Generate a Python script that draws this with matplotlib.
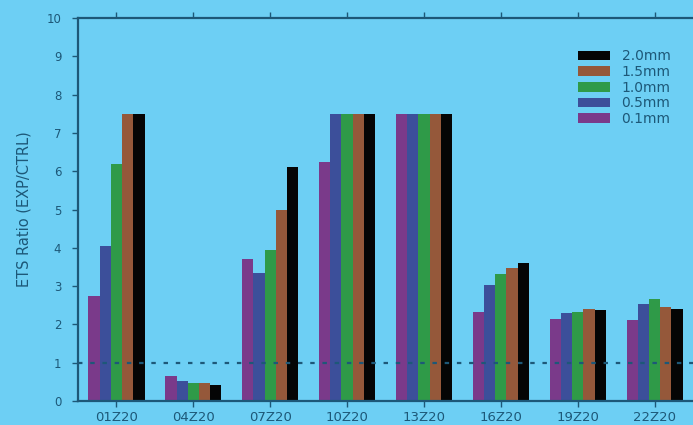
import numpy as np
import matplotlib
matplotlib.use("Agg")
from matplotlib import pyplot as plt
from matplotlib.patches import Patch

# ETS ratio per time step and smoothing radius
times = ['01Z20', '04Z20', '07Z20', '10Z20', '13Z20', '16Z20', '19Z20', '22Z20']
series = ['0.1mm', '0.5mm', '1.0mm', '1.5mm', '2.0mm']
r01 = [2.75, 0.64, 3.72, 6.25, 7.5, 2.33, 2.15, 2.11]
r05 = [4.05, 0.53, 3.35, 7.5, 7.5, 3.03, 2.29, 2.52]
r10 = [6.2, 0.48, 3.95, 7.5, 7.5, 3.31, 2.33, 2.67]
r15 = [7.5, 0.46, 5.0, 7.5, 7.5, 3.47, 2.39, 2.46]
r20 = [7.5, 0.43, 6.1, 7.5, 7.5, 3.6, 2.37, 2.39]
values = [r01, r05, r10, r15, r20]
colors = ['#7a3a8a', '#3c4f9a', '#2f9a48', '#95583a', '#050505']

bg = '#6dcff4'
ink = '#1d5878'
fam = ['DejaVu Sans']

fig = plt.figure(figsize=(6.93, 4.25), dpi=100, facecolor=bg)
ax = fig.add_axes([0.1126, 0.0565, 0.8874, 0.9011], facecolor=bg)

x = np.arange(len(times))
w = 0.146
for i, (vals, c) in enumerate(zip(values, colors)):
    ax.bar(x + (i - 2) * w, vals, width=w, color=c, linewidth=0, zorder=2)

ax.axhline(1, color=ink, lw=1.6, linestyle=(0, (2, 3.5)), zorder=3)

ax.set_xlim(-0.5, 7.5)
ax.set_ylim(0, 10)
ax.set_yticks(range(0, 11))
ax.set_xticks(x)
ax.set_xticklabels(times)

for s in ['left', 'bottom', 'top']:
    ax.spines[s].set_color(ink)
    ax.spines[s].set_linewidth(1.6)
ax.spines['right'].set_visible(False)

ax.tick_params(axis='both', colors=ink, labelcolor=ink, width=1, length=4)
ax.tick_params(axis='x', top=True, pad=3, labelsize=9.5)
ax.tick_params(axis='y', pad=8, labelsize=8.5)
for t in ax.get_xticklabels() + ax.get_yticklabels():
    t.set_family(fam)

ax.set_ylabel('ETS Ratio (EXP/CTRL)', color=ink, fontsize=10.5,
              family=fam, labelpad=11)

handles = [Patch(facecolor=c, edgecolor='none') for c in colors][::-1]
labels = series[::-1]
leg = ax.legend(handles, labels, loc='upper right', bbox_to_anchor=(0.977, 0.94),
                frameon=False, handlelength=2.3, handleheight=0.72,
                labelspacing=0.12, handletextpad=0.8, borderaxespad=0.2,
                prop={'family': fam, 'size': 10})
for t in leg.get_texts():
    t.set_color(ink)

fig.savefig('out.png', dpi=100, facecolor=bg)
